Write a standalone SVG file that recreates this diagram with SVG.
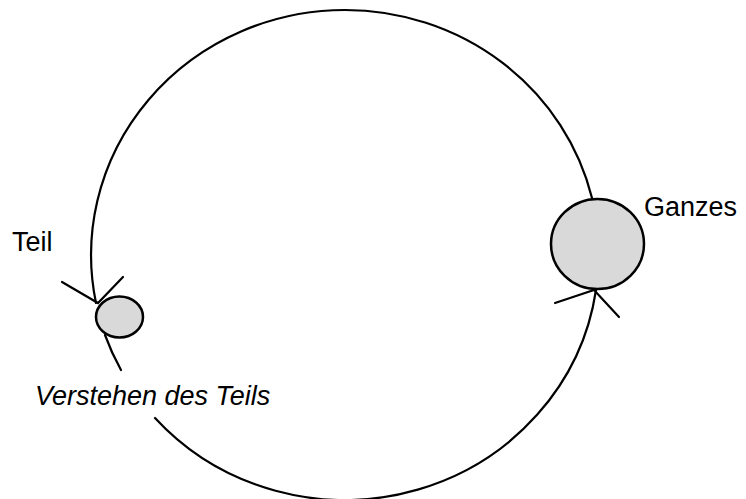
<svg xmlns="http://www.w3.org/2000/svg" width="746" height="499" viewBox="0 0 746 499">
<style>
.ln{fill:none;stroke:#000;stroke-width:2.2;stroke-linecap:round}
.nd{fill:#d9d9d9;stroke:#000;stroke-width:2.5}
.tx{font-family:"Liberation Sans",Arial,sans-serif;font-size:27px;fill:#000}
</style>
<rect width="746" height="499" fill="#fff"/>
<g id="connectors">
<path class="ln" d="M 592 198 A 254 245 0 0 0 345 10 A 254 245 0 0 0 96 303"/>
<path class="ln" d="M 62 282 L 98 303 L 123 277"/>
<path class="ln" d="M 105 335 A 254 245 0 0 0 121 370"/>
<path class="ln" d="M 155 418 A 254 245 0 0 0 596 290"/>
<path class="ln" d="M 555 303 L 594 290 L 619 317"/>
</g>
<g id="teil">
<ellipse class="nd" cx="119.5" cy="317" rx="23.5" ry="20.5"/>
<text class="tx" x="12" y="251">Teil</text>
</g>
<g id="ganzes">
<ellipse class="nd" cx="597.5" cy="244" rx="46.5" ry="45"/>
<text class="tx" x="644" y="216">Ganzes</text>
</g>
<g id="verstehen">
<text class="tx" x="35" y="405" font-style="italic">Verstehen des Teils</text>
</g>
</svg>
